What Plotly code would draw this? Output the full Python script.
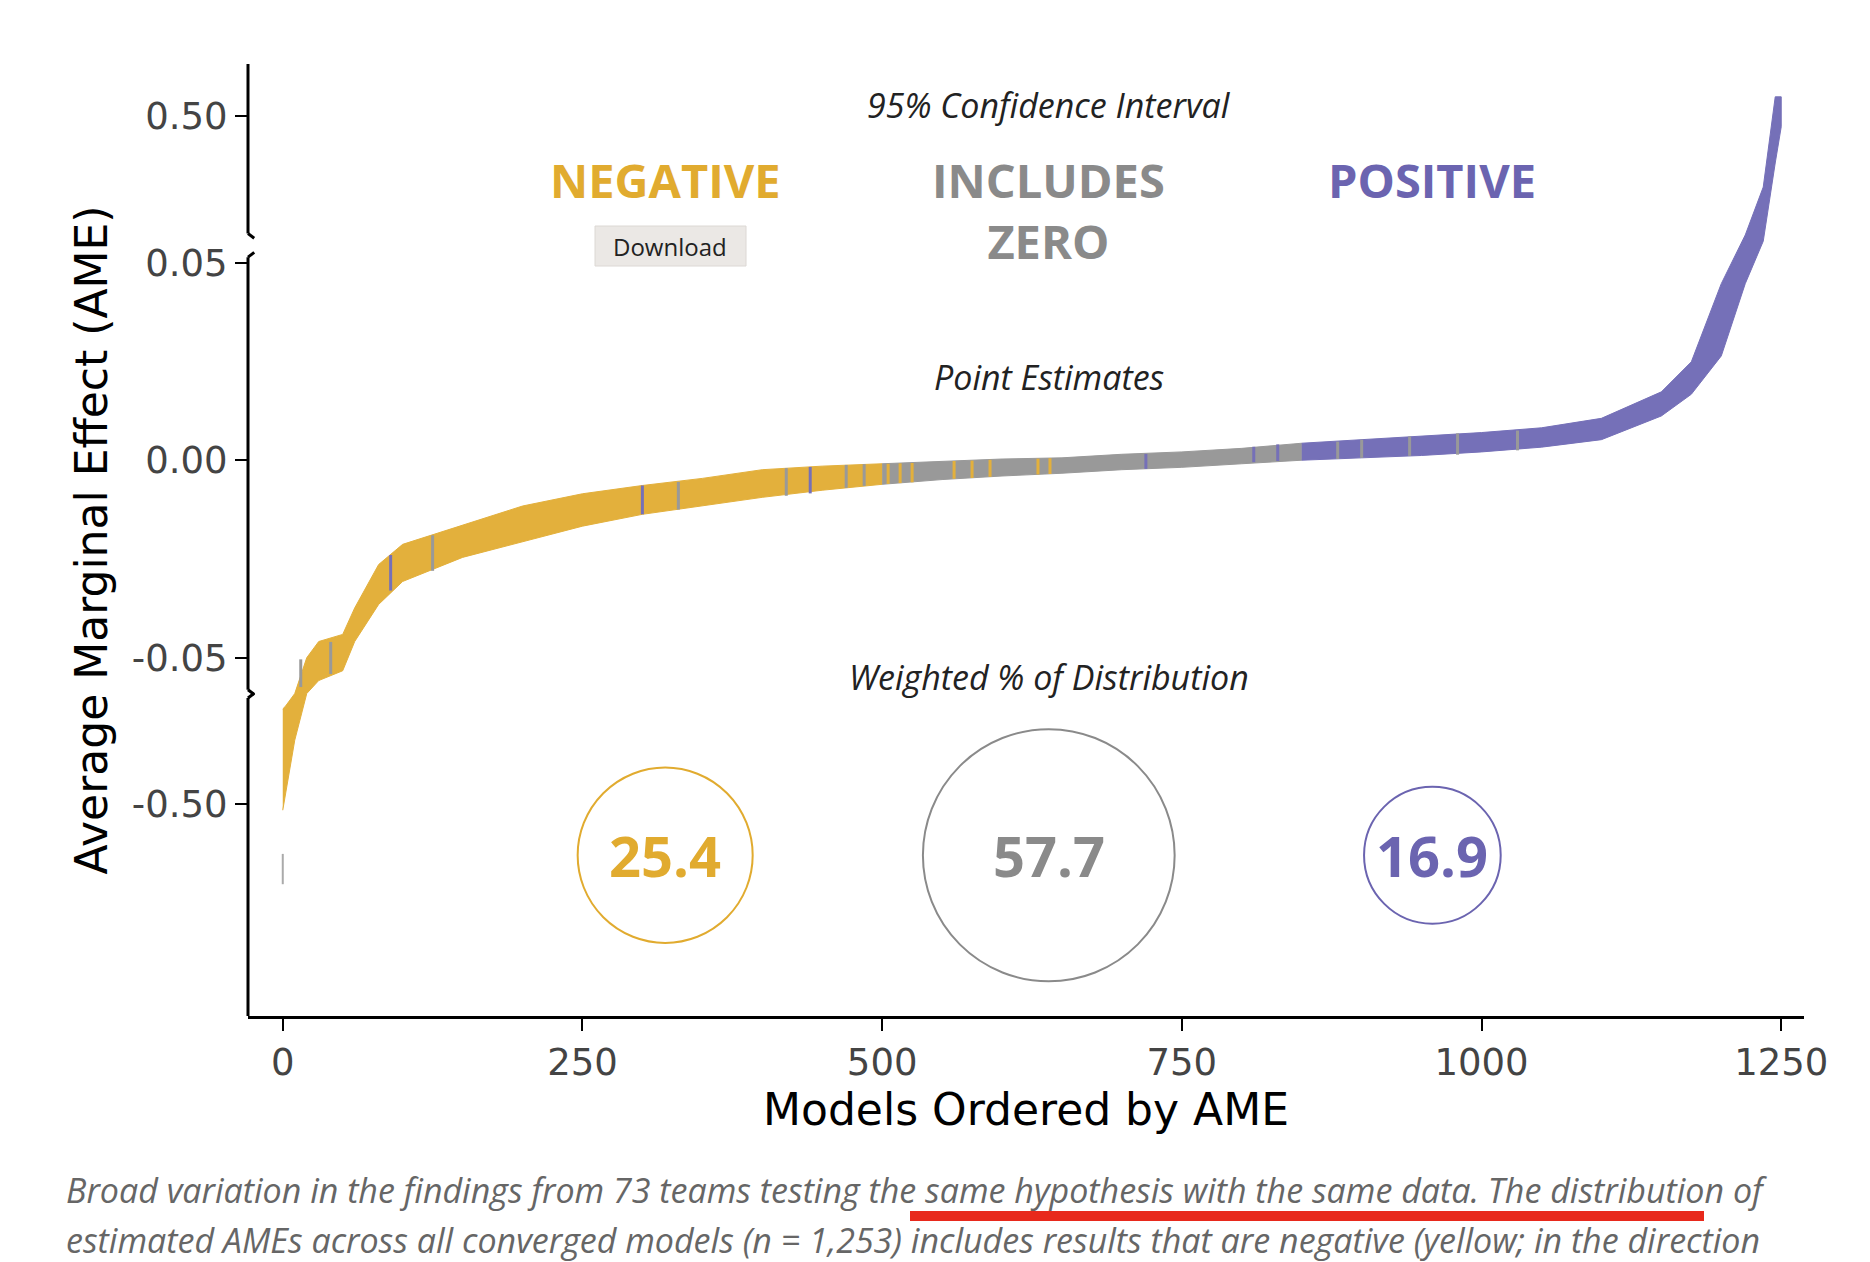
import plotly.graph_objects as go

# band of 95% CIs, read at anchor ranks (models ordered by AME)
ranks = [0, 2, 10, 20, 30, 50, 60, 80, 100, 150, 200, 250, 300, 350, 400, 450, 500,
         550, 600, 650, 700, 750, 800, 850, 900, 950, 1000, 1050, 1100, 1150, 1175,
         1200, 1220, 1235, 1245, 1250]
ci_low = [-0.518, -0.485, -0.303, -0.160, -0.120, -0.090, -0.0459, -0.0365, -0.0307,
          -0.0246, -0.0207, -0.0167, -0.0137, -0.0116, -0.0094, -0.0076, -0.0061,
          -0.0049, -0.0040, -0.0033, -0.0024, -0.0018, -0.0009, 0.0, 0.0006, 0.0012,
          0.0021, 0.0033, 0.0052, 0.0112, 0.0167, 0.0264, 0.0447, 0.116, 0.356, 0.467]
ci_high = [-0.207, -0.200, -0.160, -0.050, -0.0459, -0.0441, -0.0374, -0.0264, -0.0213,
           -0.0164, -0.0116, -0.0085, -0.0064, -0.0046, -0.0024, -0.0015, -0.0009,
           -0.0003, 0.0003, 0.0006, 0.0015, 0.0021, 0.0030, 0.0043, 0.0052, 0.0061,
           0.0070, 0.0082, 0.0106, 0.0173, 0.0249, 0.0447, 0.135, 0.282, 0.559, 0.559]
segments = [("NEGATIVE", 0, 500), ("INCLUDES ZERO", 500, 850), ("POSITIVE", 850, 1250)]

# single models that stand out in another colour
acc_rank = [15, 40, 90, 125, 300, 330, 420, 440, 470, 485, 505, 515, 525, 560, 575,
            590, 630, 640, 720, 810, 830, 880, 900, 940, 980, 1030]
acc_low = [-0.140, -0.100, -0.0330, -0.0280, -0.0137, -0.0125, -0.0090, -0.0084,
           -0.0070, -0.0065, -0.0060, -0.0058, -0.0056, -0.0047, -0.0045, -0.0042,
           -0.0036, -0.0035, -0.0022, -0.0005, -0.0002, 0.0003, 0.0006, 0.0011, 0.0014,
           0.0025]
acc_high = [-0.055, -0.046, -0.0240, -0.0190, -0.0064, -0.0055, -0.0020, -0.0017,
            -0.0012, -0.0010, -0.0009, -0.0008, -0.0007, -0.0002, -0.0001, 0.0001,
            0.0004, 0.0005, 0.0016, 0.0034, 0.0040, 0.0047, 0.0052, 0.0060, 0.0068,
            0.0075]
acc_cat = ["INCLUDES ZERO", "INCLUDES ZERO", "POSITIVE", "INCLUDES ZERO", "POSITIVE",
           "INCLUDES ZERO", "INCLUDES ZERO", "POSITIVE", "INCLUDES ZERO", "INCLUDES ZERO",
           "NEGATIVE", "NEGATIVE", "NEGATIVE", "NEGATIVE", "NEGATIVE", "NEGATIVE",
           "NEGATIVE", "NEGATIVE", "POSITIVE", "POSITIVE", "POSITIVE", "INCLUDES ZERO",
           "INCLUDES ZERO", "INCLUDES ZERO", "INCLUDES ZERO", "INCLUDES ZERO"]
outlier = (0, -0.745, -0.652)

shares = [25.4, 57.7, 16.9]
share_rank = [319, 639, 959]
share_radius = [73, 105, 57]

ytick_vals = [0.50, 0.05, 0.00, -0.05, -0.50]
ytick_text = ["0.50", "0.05", "0.00", "-0.05", "-0.50"]

col = {"NEGATIVE": "#e1ab2f", "INCLUDES ZERO": "#8a8a8a", "POSITIVE": "#6b64b0"}
band_col = {"NEGATIVE": "#e3b03c", "INCLUDES ZERO": "#999999", "POSITIVE": "#7570b8"}

K = 0.0825  # compression of the outer panels of the broken axis


def tf(v):
    if v > 0.05:
        return 0.05 + (v - 0.05) * K
    if v < -0.05:
        return -0.05 + (v + 0.05) * K
    return v


fig = go.Figure()

for cat, a, b in segments:
    idx = [i for i, r in enumerate(ranks) if a <= r <= b]
    xs = [ranks[i] for i in idx]
    hi = [tf(ci_high[i]) for i in idx]
    lo = [tf(ci_low[i]) for i in idx]
    fig.add_trace(go.Scatter(x=xs + xs[::-1], y=hi + lo[::-1], fill="toself",
                             fillcolor=band_col[cat], mode="lines",
                             line=dict(color=band_col[cat], width=1),
                             hoverinfo="skip", showlegend=False))

for r, lo, hi, c in zip(acc_rank, acc_low, acc_high, acc_cat):
    fig.add_trace(go.Scatter(x=[r, r], y=[tf(lo), tf(hi)], mode="lines",
                             line=dict(color=band_col[c], width=3),
                             hoverinfo="skip", showlegend=False))

fig.add_trace(go.Scatter(x=[outlier[0]] * 2, y=[tf(outlier[1]), tf(outlier[2])],
                         mode="lines", line=dict(color="#aaaaaa", width=2),
                         showlegend=False))

px = 1 / 3290  # one display pixel in axis units
cy = -0.1
for cat, n, r, rad in zip(col, shares, share_rank, share_radius):
    fig.add_shape(type="circle", x0=r - rad, x1=r + rad, y0=cy - rad * px, y1=cy + rad * px,
                  line=dict(color=col[cat], width=2))
    fig.add_annotation(x=r, y=cy, text=f"<b>{n}</b>", showarrow=False,
                       font=dict(family="Open Sans", size=56, color=col[cat]))

head_y = 0.0795
for cat, r in zip(col, share_rank):
    txt = "INCLUDES<br>ZERO" if cat == "INCLUDES ZERO" else cat
    fig.add_annotation(x=r, y=head_y, yanchor="top", text=f"<b>{txt}</b>", showarrow=False,
                       font=dict(family="Open Sans", size=47, color=col[cat]))

for txt, yy in [("95% Confidence Interval", 0.0900), ("Point Estimates", 0.0210),
                ("Weighted % of Distribution", -0.0550)]:
    fig.add_annotation(x=639, y=yy, text=f"<i>{txt}</i>", showarrow=False,
                       font=dict(family="Open Sans", size=34, color="#222222"))

# broken y axis line
for y0, y1 in [(0.1003, 0.0574), (0.0514, -0.0581), (-0.0602, -0.1407)]:
    fig.add_shape(type="line", xref="paper", x0=0, x1=0, y0=y0, y1=y1,
                  line=dict(color="black", width=3))
for yb, d in [(0.0574, 1), (0.0514, -1), (-0.0581, 1), (-0.0602, -1)]:
    fig.add_shape(type="line", xref="paper", x0=0, x1=0.004, y0=yb, y1=yb - d * 0.0012,
                  line=dict(color="black", width=3))

# download button
fig.add_shape(type="rect", xref="paper", yref="paper", x0=(587 - 240) / 1556, x1=(738 - 240) / 1556,
              y0=1 - (258 - 56) / 952, y1=1 - (218 - 56) / 952,
              fillcolor="#ebe8e5", line=dict(color="#dcd8d4", width=1))
fig.add_annotation(xref="paper", yref="paper", x=(662 - 240) / 1556, y=1 - (238 - 56) / 952,
                   xanchor="center", yanchor="middle", text="Download", showarrow=False,
                   font=dict(family="Open Sans", size=24, color="#222222"))

# caption below the figure
cap = ["Broad variation in the findings from 73 teams testing the same hypothesis with the same data. The distribution of",
       "estimated AMEs across all converged models (n = 1,253) includes results that are negative (yellow; in the direction"]
for i, line in enumerate(cap):
    fig.add_annotation(xref="paper", yref="paper", x=(56 - 240) / 1556,
                       y=1 - (1182 + 50 * i - 56) / 952, xanchor="left", yanchor="middle",
                       text=f"<i>{line}</i>", showarrow=False,
                       font=dict(family="Open Sans", size=34, color="#666666"))
fig.add_shape(type="line", xref="paper", yref="paper", x0=(902 - 240) / 1556, x1=(1696 - 240) / 1556,
              y0=1 - (1208 - 56) / 952, y1=1 - (1208 - 56) / 952,
              line=dict(color="#e8291c", width=10))

fig.update_layout(
    width=1870, height=1262, plot_bgcolor="white", paper_bgcolor="white",
    margin=dict(l=240, r=74, t=56, b=254),
    xaxis=dict(range=[-29, 1269], tickvals=[0, 250, 500, 750, 1000, 1250], automargin=False,
               showgrid=False, zeroline=False, showline=True, linecolor="black",
               linewidth=3, ticks="outside", ticklen=12, tickwidth=2, tickcolor="black",
               tickfont=dict(family="DejaVu Sans", size=37, color="#444444"),
               title=dict(text="Models Ordered by AME", standoff=6,
                          font=dict(family="DejaVu Sans", size=44, color="black"))),
    yaxis=dict(range=[-0.1407, 0.1003], tickvals=[tf(v) for v in ytick_vals], automargin=False,
               ticktext=ytick_text, showgrid=False, zeroline=False, showline=False,
               ticks="outside", ticklen=12, tickwidth=2, tickcolor="black",
               tickfont=dict(family="DejaVu Sans", size=37, color="#444444"),
               title=dict(text="Average Marginal Effect (AME)", standoff=10,
                          font=dict(family="DejaVu Sans", size=44, color="black"))),
)

fig.write_html("out.html")
